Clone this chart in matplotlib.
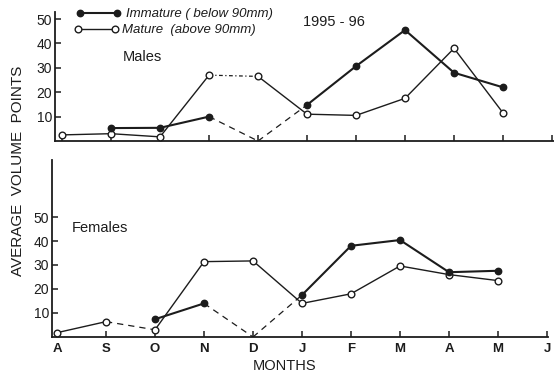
import numpy as np
import matplotlib
matplotlib.use("Agg")
import matplotlib.pyplot as plt

plt.rcParams['font.family'] = ['Liberation Sans', 'DejaVu Sans']

months = ['A', 'S', 'O', 'N', 'D', 'J', 'F', 'M', 'A', 'M', 'J']

# males (top panel), nan = no sample
male_immature = [np.nan, 5.3, 5.4, 10, 0, 14.8, 30.7, 45.5, 28, 22]
male_mature = [2.5, 3.0, 1.7, 27, 26.5, 11, 10.5, 17.5, 38, 11.5]

# females (bottom panel)
female_immature = [np.nan, np.nan, 7.4, 14, 0, 17.5, 38, 40.4, 27, 27.6]
female_mature = [1.8, 6.4, 3.0, 31.4, 31.7, 14, 18, 29.6, 26, 23.5]

# segments (start index) drawn with a broken line
male_imm_dashed = [3, 4]
male_mat_dotted = [3]
female_imm_dashed = [3, 4]
female_mat_dashed = [1]
no_marker = [4]  # the zero points in December carry no symbol

INK = '#1c1c1c'
W, H = 554, 374


def draw_series(ax, vals, filled, lw, broken, broken_style):
    x = np.arange(len(vals))
    for i in range(len(vals) - 1):
        if np.isnan(vals[i]) or np.isnan(vals[i + 1]):
            continue
        ls = broken_style if i in broken else '-'
        w = 0.9 if i in broken else lw
        ax.plot(x[i:i + 2], vals[i:i + 2], color=INK, lw=w, ls=ls,
                solid_capstyle='round', zorder=2)
    for i, v in enumerate(vals):
        if np.isnan(v) or (i in no_marker and v == 0):
            continue
        ax.plot(x[i], v, 'o', ms=4.6 if filled else 4.8,
                mfc=INK if filled else 'white', mec=INK, mew=1.0, zorder=3)


def style_axis(ax, ymax, xl, xr):
    ax.set_xlim(xl, xr)
    ax.set_ylim(0, ymax)
    ax.set_facecolor('none')
    for s in ['top', 'right']:
        ax.spines[s].set_visible(False)
    for s in ['left', 'bottom']:
        ax.spines[s].set_color(INK)
        ax.spines[s].set_linewidth(1.3)
    ax.set_yticks([10, 20, 30, 40, 50])
    ax.set_xticks(range(len(months)))
    ax.tick_params(axis='both', direction='in', length=4, width=1.1,
                   color=INK, labelcolor=INK, labelsize=10, pad=2)


fig = plt.figure(figsize=(W / 100, H / 100), dpi=100)

top = fig.add_axes([55 / W, 1 - 141 / H, 499 / W, 129 / H])
style_axis(top, 52.9, -0.143, 10.04)
top.set_xticklabels([])
draw_series(top, male_mature, False, 1.0, male_mat_dotted, (0, (3, 2, 1, 2)))
draw_series(top, male_immature, True, 1.5, male_imm_dashed, (0, (5, 4)))
top.text(68 / 499, 1 - (57 - 12) / 129, 'Males', transform=top.transAxes,
         fontsize=10.5, color=INK, va='center')
top.text(303 / W, 1 - 22 / H, '1995 - 96', transform=fig.transFigure,
         fontsize=10.5, color=INK, va='center')

# legend drawn by hand
fig.add_artist(plt.Line2D([80 / W, 117 / W], [1 - 13 / H] * 2, color=INK, lw=1.5,
                          marker='o', ms=4.6, mfc=INK, mec=INK))
fig.add_artist(plt.Line2D([78 / W, 115 / W], [1 - 29 / H] * 2, color=INK, lw=1.0,
                          marker='o', ms=4.8, mfc='white', mec=INK))
fig.text(126 / W, 1 - 14 / H, 'Immature ( below 90mm)', fontsize=9.5,
         style='italic', color=INK, va='center')
fig.text(122 / W, 1 - 30 / H, 'Mature  (above 90mm)', fontsize=9.5,
         style='italic', color=INK, va='center')

bot = fig.add_axes([52 / W, 1 - 337 / H, 496 / W, 177 / H])
style_axis(bot, 73.75, -0.102, 10.02)
bot.set_xticklabels(months, fontsize=9.5, fontweight='bold')
bot.tick_params(axis='x', pad=4)
draw_series(bot, female_mature, False, 1.0, female_mat_dashed, (0, (5, 4)))
draw_series(bot, female_immature, True, 1.5, female_imm_dashed, (0, (5, 4)))
bot.text(72 / W, 1 - 228 / H, 'Females', transform=fig.transFigure,
         fontsize=10.5, color=INK, va='center')

fig.text(285 / W, 1 - 366 / H, 'MONTHS', fontsize=10.5, color=INK,
         ha='center', va='center')
fig.text(18 / W, 1 - 171 / H, 'AVERAGE  VOLUME  POINTS', fontsize=11,
         color=INK, rotation=90, ha='center', va='center')

fig.savefig('out.png', dpi=100, facecolor='white')
